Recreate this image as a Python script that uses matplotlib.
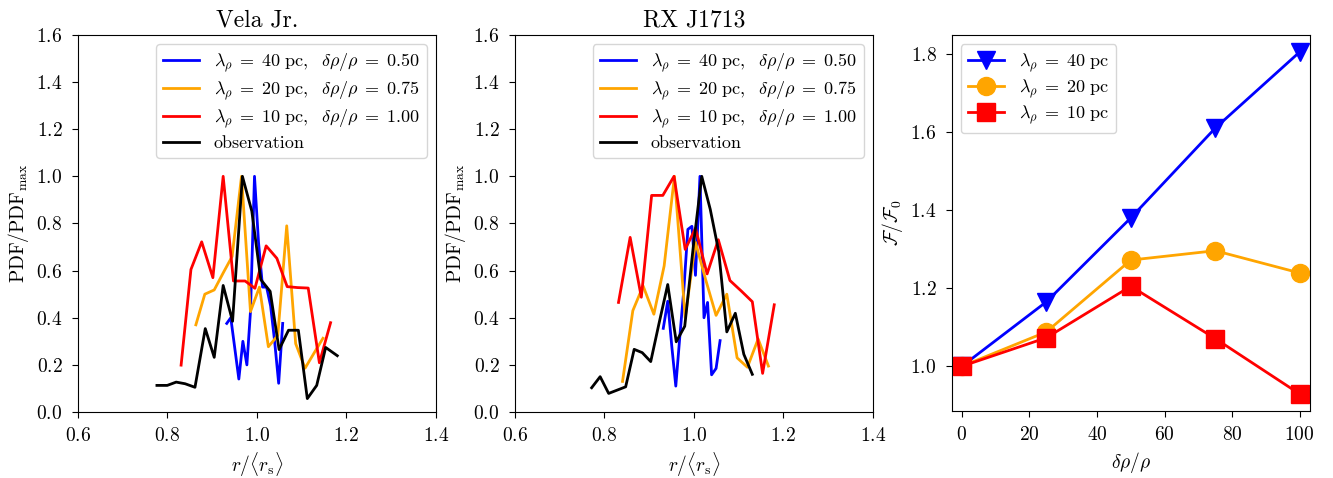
import matplotlib
matplotlib.use("Agg")
import matplotlib.pyplot as plt

plt.rcParams.update({
    "font.family": "serif",
    "font.serif": ["cmr10", "DejaVu Serif"],
    "mathtext.fontset": "cm",
    "axes.formatter.use_mathtext": True,
    "font.size": 14,
    "legend.fontsize": 13,
    "legend.labelspacing": 0.3,
    "xtick.major.pad": 6.5,
    "ytick.major.pad": 6.5,
    "xtick.major.size": 4.5,
    "ytick.major.size": 4.5,
    "axes.unicode_minus": False,
})

# ---- Vela Jr. radial PDFs ----
vela_x40 = [0.933, 0.942, 0.951, 0.960, 0.969, 0.978, 0.986, 0.995, 1.004, 1.013,
            1.022, 1.031, 1.040, 1.049, 1.058]
vela_y40 = [0.376, 0.40, 0.27, 0.14, 0.30, 0.20, 0.426, 1.0, 0.72, 0.53,
            0.53, 0.45, 0.30, 0.122, 0.376]
vela_x20 = [0.864, 0.884, 0.905, 0.925, 0.945, 0.966, 0.986, 1.006, 1.026, 1.047,
            1.067, 1.087, 1.108, 1.128, 1.148]
vela_y20 = [0.37, 0.50, 0.518, 0.59, 0.66, 1.0, 0.426, 0.53, 0.277, 0.325,
            0.79, 0.29, 0.186, 0.25, 0.313]
vela_x10 = [0.831, 0.853, 0.877, 0.902, 0.925, 0.948, 0.974, 0.996, 1.021, 1.045,
            1.068, 1.091, 1.115, 1.140, 1.165]
vela_y10 = [0.199, 0.605, 0.722, 0.57, 1.0, 0.556, 0.556, 0.525, 0.705, 0.652,
            0.532, 0.528, 0.526, 0.209, 0.379]
vela_xobs = [0.777, 0.800, 0.820, 0.840, 0.862, 0.885, 0.905, 0.925, 0.946, 0.968,
             0.989, 1.009, 1.030, 1.050, 1.071, 1.093, 1.113, 1.134, 1.154, 1.180]
vela_yobs = [0.113, 0.113, 0.127, 0.12, 0.105, 0.354, 0.232, 0.537, 0.385, 1.0,
             0.852, 0.562, 0.512, 0.265, 0.347, 0.347, 0.057, 0.113, 0.274, 0.239]

# ---- RX J1713 radial PDFs ----
rxj_x40 = [0.932, 0.942, 0.951, 0.960, 0.969, 0.978, 0.987, 0.996, 1.004, 1.014,
           1.023, 1.031, 1.040, 1.050, 1.059]
rxj_y40 = [0.355, 0.47, 0.28, 0.11, 0.32, 0.52, 0.775, 0.788, 0.58, 1.0,
           0.40, 0.465, 0.158, 0.185, 0.303]
rxj_x20 = [0.841, 0.864, 0.887, 0.911, 0.934, 0.957, 0.981, 1.004, 1.027, 1.050,
           1.074, 1.097, 1.120, 1.144, 1.167]
rxj_y20 = [0.13, 0.43, 0.535, 0.415, 0.62, 1.0, 0.40, 0.72, 0.56, 0.41,
           0.50, 0.23, 0.19, 0.31, 0.195]
rxj_x10 = [0.832, 0.858, 0.883, 0.906, 0.931, 0.956, 0.981, 1.004, 1.030, 1.055,
           1.081, 1.106, 1.131, 1.154, 1.180]
rxj_y10 = [0.465, 0.741, 0.487, 0.919, 0.919, 1.0, 0.69, 0.78, 0.586, 0.731,
           0.558, 0.514, 0.468, 0.164, 0.455]
rxj_xobs = [0.772, 0.791, 0.810, 0.829, 0.848, 0.867, 0.885, 0.904, 0.923, 0.942,
            0.961, 0.980, 0.999, 1.018, 1.037, 1.056, 1.074, 1.093, 1.112, 1.131]
rxj_yobs = [0.103, 0.150, 0.079, 0.093, 0.107, 0.266, 0.252, 0.214, 0.38, 0.541,
            0.298, 0.364, 0.70, 1.0, 0.86, 0.68, 0.340, 0.419, 0.245, 0.160]

# ---- flux ratio vs density fluctuation amplitude ----
drho = [0, 25, 50, 75, 100]
flux40 = [1.0, 1.165, 1.38, 1.61, 1.805]
flux20 = [1.0, 1.088, 1.272, 1.296, 1.239]
flux10 = [1.0, 1.073, 1.205, 1.071, 0.929]

labels = [
    r"$\lambda_\rho \;=\; 40\ \mathrm{pc},\ \ \delta\rho/\rho \;=\; 0.50$",
    r"$\lambda_\rho \;=\; 20\ \mathrm{pc},\ \ \delta\rho/\rho \;=\; 0.75$",
    r"$\lambda_\rho \;=\; 10\ \mathrm{pc},\ \ \delta\rho/\rho \;=\; 1.00$",
    "observation",
]
colors = ["blue", "orange", "red", "black"]

fig = plt.figure(figsize=(13.33, 4.78), dpi=100)
W = 0.2686
ax1 = fig.add_axes([0.0583, 0.138, W, 0.789])
ax2 = fig.add_axes([0.3861, 0.138, W, 0.789])
ax3 = fig.add_axes([0.7140, 0.140, W, 0.787])


def pdf_panel(ax, title, series):
    for (x, y), c, lab in zip(series, colors, labels):
        ax.plot(x, y, color=c, lw=2, label=lab)
    ax.set_xlim(0.6, 1.4)
    ax.set_ylim(0.0, 1.6)
    ax.set_xticks([0.6, 0.8, 1.0, 1.2, 1.4])
    ax.set_yticks([0.0, 0.2, 0.4, 0.6, 0.8, 1.0, 1.2, 1.4, 1.6])
    ax.set_xlabel(r"$r/\langle r_{\mathrm{s}}\rangle$")
    ax.set_ylabel(r"$\mathrm{PDF}/\mathrm{PDF}_{\mathrm{max}}$")
    ax.set_title(title, fontsize=17)
    ax.legend(loc="upper right")


pdf_panel(ax1, "Vela Jr.", [(vela_x40, vela_y40), (vela_x20, vela_y20),
                            (vela_x10, vela_y10), (vela_xobs, vela_yobs)])
pdf_panel(ax2, "RX J1713", [(rxj_x40, rxj_y40), (rxj_x20, rxj_y20),
                            (rxj_x10, rxj_y10), (rxj_xobs, rxj_yobs)])

ax3.plot(drho, flux40, color="blue", marker="v", ms=13, lw=2,
         label=r"$\lambda_\rho \;=\; 40\ \mathrm{pc}$")
ax3.plot(drho, flux20, color="orange", marker="o", ms=13, lw=2,
         label=r"$\lambda_\rho \;=\; 20\ \mathrm{pc}$")
ax3.plot(drho, flux10, color="red", marker="s", ms=13, lw=2,
         label=r"$\lambda_\rho \;=\; 10\ \mathrm{pc}$")
ax3.set_xlim(-3, 103)
ax3.set_xticks([0, 20, 40, 60, 80, 100])
ax3.set_yticks([1.0, 1.2, 1.4, 1.6, 1.8])
ax3.set_xlabel(r"$\delta\rho/\rho$")
ax3.set_ylabel(r"$\mathcal{F}/\mathcal{F}_0$")
ax3.legend(loc="upper left", labelspacing=0.2)

fig.savefig("out.png", dpi=100)
